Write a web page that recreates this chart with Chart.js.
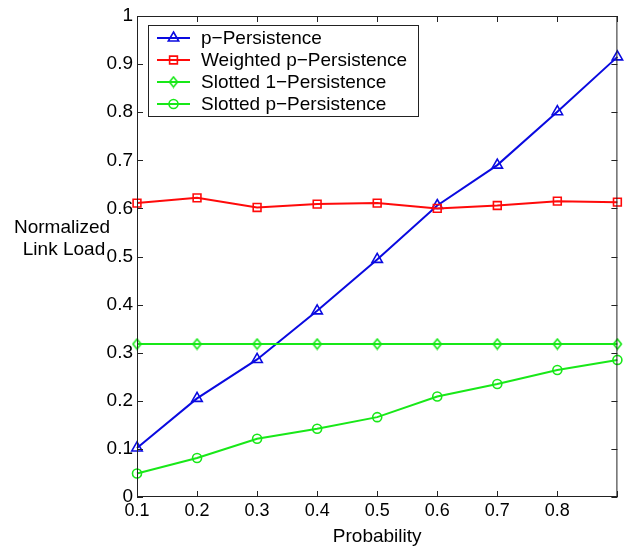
<!DOCTYPE html>
<html>
<head>
<meta charset="utf-8">
<script src="https://cdn.jsdelivr.net/npm/chart.js@4.4.0/dist/chart.umd.min.js"></script>
<style>
  html, body { margin: 0; padding: 0; background: #fff; }
</style>
</head>
<body>
<canvas id="load-chart" width="625" height="548"></canvas>
<script>
const probability = [0.1, 0.2, 0.3, 0.4, 0.5, 0.6, 0.7, 0.8, 0.9];
const pPersistence = [0.102, 0.205, 0.286, 0.387, 0.494, 0.606, 0.690, 0.801, 0.915];
const weightedP = [0.611, 0.622, 0.602, 0.609, 0.611, 0.600, 0.606, 0.615, 0.613];
const slotted1 = [0.318, 0.318, 0.318, 0.318, 0.318, 0.318, 0.318, 0.318, 0.318];
const slottedP = [0.049, 0.081, 0.121, 0.142, 0.166, 0.209, 0.235, 0.264, 0.285];

const xTicks = [0.1, 0.2, 0.3, 0.4, 0.5, 0.6, 0.7, 0.8, 0.9];
const xTickLabels = ["0.1", "0.2", "0.3", "0.4", "0.5", "0.6", "0.7", "0.8", ""];
const yTicks = [0, 0.1, 0.2, 0.3, 0.4, 0.5, 0.6, 0.7, 0.8, 0.9, 1];
const yTickLabels = ["0", "0.1", "0.2", "0.3", "0.4", "0.5", "0.6", "0.7", "0.8", "0.9", "1"];

const FONT = '"Liberation Sans", Arial, Helvetica, sans-serif';
const BLUE = "#0a0ae0";
const RED = "#ff0a0a";
const GREEN = "#18e818";

// matlab style diamond, taller than wide
function diamondImage(color) {
  const c = document.createElement("canvas");
  c.width = 11; c.height = 13;
  const g = c.getContext("2d");
  g.strokeStyle = color;
  g.lineWidth = 1.6;
  g.beginPath();
  g.moveTo(5.5, 1.5); g.lineTo(9.5, 6.5); g.lineTo(5.5, 11.5); g.lineTo(1.5, 6.5);
  g.closePath();
  g.stroke();
  return c;
}

function series(label, data, color, style, radius, order) {
  return {
    label: label,
    data: data.map((v, i) => ({ x: probability[i], y: v })),
    borderColor: color,
    backgroundColor: color,
    borderWidth: 2,
    pointStyle: style,
    pointRadius: radius,
    pointHoverRadius: radius,
    pointBorderColor: color,
    pointBackgroundColor: "rgba(0,0,0,0)",
    pointBorderWidth: 1.6,
    tension: 0,
    fill: false,
    clip: false,
    order: order
  };
}

function marker(ctx, style, x, y, r) {
  if (style instanceof HTMLCanvasElement) {
    ctx.drawImage(style, x - style.width / 2, y - style.height / 2);
    return;
  }
  ctx.beginPath();
  if (style === "triangle") {
    ctx.moveTo(x, y - r);
    ctx.lineTo(x + r * Math.sin(Math.PI * 2 / 3), y - r * Math.cos(Math.PI * 2 / 3));
    ctx.lineTo(x + r * Math.sin(Math.PI * 4 / 3), y - r * Math.cos(Math.PI * 4 / 3));
    ctx.closePath();
  } else if (style === "rect") {
    const s = r * Math.SQRT1_2;
    ctx.rect(x - s, y - s, 2 * s, 2 * s);
  } else {
    ctx.arc(x, y, r, 0, Math.PI * 2);
  }
  ctx.stroke();
}

const matlabFrame = {
  id: "matlabFrame",
  beforeDraw(chart) {
    const ctx = chart.ctx;
    ctx.save();
    ctx.fillStyle = "#fff";
    ctx.fillRect(0, 0, chart.width, chart.height);
    ctx.restore();
  },
  afterDraw(chart) {
    const ctx = chart.ctx;
    const a = chart.chartArea;
    const x = chart.scales.x;
    const y = chart.scales.y;
    ctx.save();

    // axes box and inward ticks
    ctx.strokeStyle = "#222";
    ctx.lineWidth = 1;
    ctx.strokeRect(a.left + 0.5, a.top + 0.5, a.right - a.left - 1, a.bottom - a.top - 1);
    ctx.beginPath();
    xTicks.forEach(v => {
      const px = Math.round(x.getPixelForValue(v)) + 0.5;
      ctx.moveTo(px, a.bottom); ctx.lineTo(px, a.bottom - 6);
      ctx.moveTo(px, a.top); ctx.lineTo(px, a.top + 6);
    });
    yTicks.forEach(v => {
      const py = Math.round(y.getPixelForValue(v)) + 0.5;
      ctx.moveTo(a.left, py); ctx.lineTo(a.left + 6, py);
      ctx.moveTo(a.right, py); ctx.lineTo(a.right - 6, py);
    });
    ctx.stroke();

    // axis titles
    ctx.fillStyle = "#000";
    ctx.font = "19px " + FONT;
    ctx.textAlign = "center";
    ctx.textBaseline = "middle";
    ctx.fillText("Probability", (a.left + a.right) / 2, 537);
    ctx.fillText("Normalized", 62, 228);
    ctx.fillText("Link Load", 64, 250);

    // legend box
    ctx.fillStyle = "#fff";
    ctx.fillRect(148, 25, 270, 91);
    ctx.strokeStyle = "#222";
    ctx.strokeRect(148.5, 25.5, 270, 91);
    ctx.textAlign = "left";
    chart.data.datasets.forEach((ds, i) => {
      const ly = 38 + i * 22;
      ctx.strokeStyle = ds.borderColor;
      ctx.lineWidth = 2;
      ctx.beginPath();
      ctx.moveTo(157, ly); ctx.lineTo(190, ly);
      ctx.stroke();
      ctx.lineWidth = 1.6;
      marker(ctx, ds.pointStyle, 173.5, ly, ds.pointRadius);
      ctx.fillStyle = "#000";
      ctx.fillText(ds.label, 201, ly + 1);
    });
    ctx.restore();
  }
};

new Chart(document.getElementById("load-chart").getContext("2d"), {
  type: "line",
  data: {
    datasets: [
      series("p\u2212Persistence", pPersistence, BLUE, "triangle", 6, 4),
      series("Weighted p\u2212Persistence", weightedP, RED, "rect", 5.5, 3),
      series("Slotted 1\u2212Persistence", slotted1, GREEN, diamondImage(GREEN), 5, 2),
      series("Slotted p\u2212Persistence", slottedP, GREEN, "circle", 4.5, 1)
    ]
  },
  options: {
    responsive: false,
    animation: false,
    devicePixelRatio: 1,
    layout: { padding: { left: 0, right: 6, top: 16, bottom: 0 } },
    plugins: {
      legend: { display: false },
      tooltip: { enabled: false }
    },
    scales: {
      x: {
        type: "linear",
        min: 0.1,
        max: 0.9,
        afterBuildTicks: scale => { scale.ticks = xTicks.map(v => ({ value: v })); },
        afterFit: scale => { scale.height = 51; },
        grid: { display: false, drawTicks: false },
        border: { display: false },
        ticks: {
          padding: 3,
          color: "#000",
          font: { family: FONT, size: 18 },
          maxRotation: 0,
          autoSkip: false,
          callback: (value, index) => xTickLabels[index]
        }
      },
      y: {
        type: "linear",
        min: 0,
        max: 1,
        afterBuildTicks: scale => { scale.ticks = yTicks.map(v => ({ value: v })); },
        afterFit: scale => { scale.width = 137; },
        grid: { display: false, drawTicks: false },
        border: { display: false },
        ticks: {
          padding: 4,
          color: "#000",
          font: { family: FONT, size: 19 },
          autoSkip: false,
          callback: (value, index) => yTickLabels[index]
        }
      }
    }
  },
  plugins: [matlabFrame]
});
</script>
</body>
</html>
